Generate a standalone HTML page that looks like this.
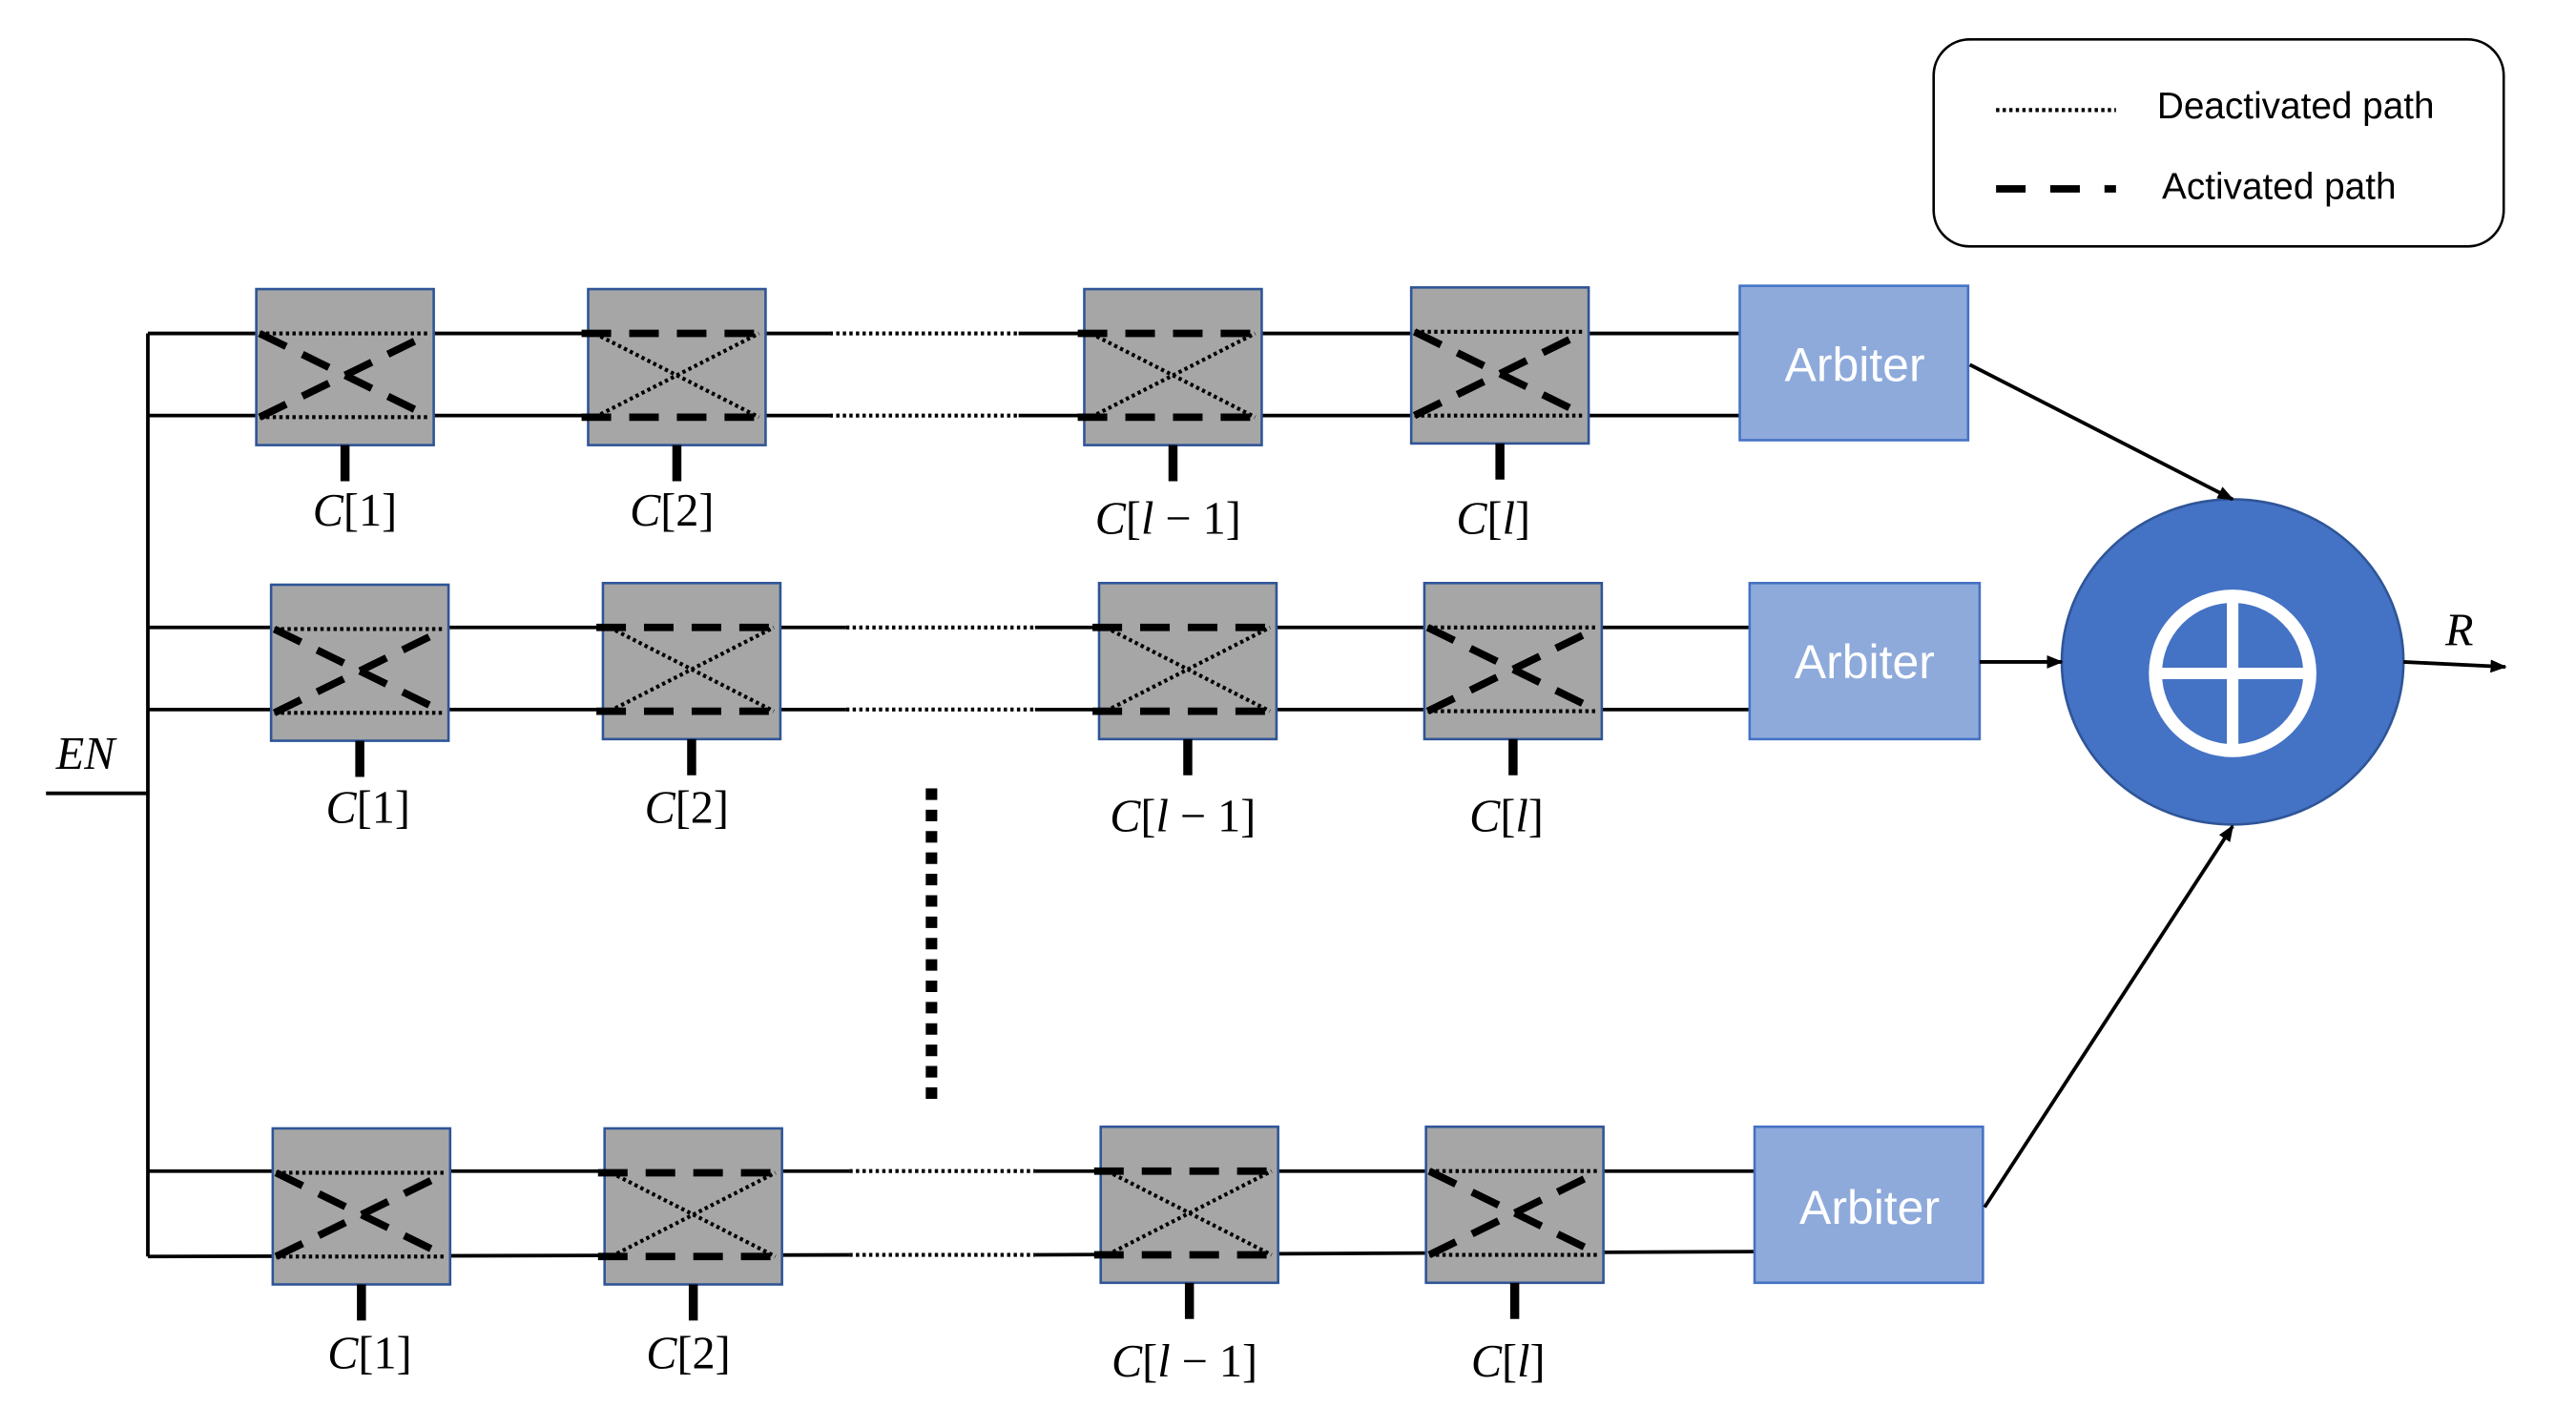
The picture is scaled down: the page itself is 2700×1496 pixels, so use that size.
<!DOCTYPE html>
<html><head><meta charset="utf-8"><style>
html,body{margin:0;padding:0;background:#fff;width:2700px;height:1496px;overflow:hidden}
svg{display:block}
.w{stroke:#000;stroke-width:2.2;fill:none}
.dt{stroke:#000;stroke-width:2.4;stroke-dasharray:2 2;fill:none}
.ds{stroke:#000;stroke-width:4.5;stroke-dasharray:18 11;fill:none}
.lbl{font-family:"Liberation Serif",serif;font-size:28px;text-anchor:middle}
.arb{font-family:"Liberation Sans",sans-serif;font-size:29px;fill:#fff;text-anchor:middle}
.leg{font-family:"Liberation Sans",sans-serif;font-size:22.5px}
</style></head><body>
<svg width="2700" height="1496" viewBox="0 0 1568 868.8" xmlns="http://www.w3.org/2000/svg">
<defs>
<g id="A">
<rect x="0" y="0" width="108" height="95" fill="#a6a6a6" stroke="#2f5597" stroke-width="1.5"/>
<line class="dt" x1="2" y1="27" x2="106" y2="27"/>
<line class="dt" x1="2" y1="78" x2="106" y2="78"/>
<line class="ds" x1="2" y1="27" x2="106" y2="78"/>
<line class="ds" x1="2" y1="78" x2="106" y2="27"/>
<line x1="54" y1="95" x2="54" y2="117" stroke="#000" stroke-width="5.5"/>
</g>
<g id="B">
<rect x="0" y="0" width="108" height="95" fill="#a6a6a6" stroke="#2f5597" stroke-width="1.5"/>
<line class="dt" x1="4" y1="27" x2="104" y2="78"/>
<line class="dt" x1="4" y1="78" x2="104" y2="27"/>
<line class="ds" x1="-4" y1="27" x2="112" y2="27"/>
<line class="ds" x1="-4" y1="78" x2="112" y2="78"/>
<line x1="54" y1="95" x2="54" y2="117" stroke="#000" stroke-width="5.5"/>
</g>
<marker id="ar" markerWidth="10" markerHeight="8" refX="9" refY="4" orient="auto" markerUnits="userSpaceOnUse"><path d="M0,0 L10,4 L0,8z" fill="#000"/></marker>
</defs>

<line class="w" x1="90" y1="203" x2="90" y2="765"/>
<line class="w" x1="28" y1="483" x2="90" y2="483"/>
<text x="52" y="468" class="lbl" font-style="italic">EN</text>

<g>
<line class="w" x1="90" y1="203" x2="505" y2="203"/><line class="dt" x1="505" y1="203" x2="620" y2="203"/><line class="w" x1="620" y1="203" x2="1059" y2="203"/>
<line class="w" x1="90" y1="253" x2="505" y2="253"/><line class="dt" x1="505" y1="253" x2="620" y2="253"/><line class="w" x1="620" y1="253" x2="1059" y2="253"/>
<use href="#A" x="156" y="176"/><use href="#B" x="358" y="176"/><use href="#B" x="660" y="176"/><use href="#A" x="859" y="175"/>
<rect x="1059" y="174" width="139" height="94" fill="#8eaadb" stroke="#4472c4" stroke-width="1.5"/>
<text x="1129" y="232" class="arb">Arbiter</text>
<text x="216" y="320" class="lbl"><tspan font-style="italic">C</tspan>[1]</text>
<text x="409" y="320" class="lbl"><tspan font-style="italic">C</tspan>[2]</text>
<text x="711" y="325" class="lbl"><tspan font-style="italic">C</tspan>[<tspan font-style="italic">l</tspan> − 1]</text>
<text x="909" y="325" class="lbl"><tspan font-style="italic">C</tspan>[<tspan font-style="italic">l</tspan>]</text>
</g>

<g>
<line class="w" x1="90" y1="382" x2="515" y2="382"/><line class="dt" x1="515" y1="382" x2="630" y2="382"/><line class="w" x1="630" y1="382" x2="1065" y2="382"/>
<line class="w" x1="90" y1="432" x2="515" y2="432"/><line class="dt" x1="515" y1="432" x2="630" y2="432"/><line class="w" x1="630" y1="432" x2="1065" y2="432"/>
<use href="#A" x="165" y="356"/><use href="#B" x="367" y="355"/><use href="#B" x="669" y="355"/><use href="#A" x="867" y="355"/>
<rect x="1065" y="355" width="140" height="95" fill="#8eaadb" stroke="#4472c4" stroke-width="1.5"/>
<text x="1135" y="413" class="arb">Arbiter</text>
<text x="224" y="501" class="lbl"><tspan font-style="italic">C</tspan>[1]</text>
<text x="418" y="501" class="lbl"><tspan font-style="italic">C</tspan>[2]</text>
<text x="720" y="506" class="lbl"><tspan font-style="italic">C</tspan>[<tspan font-style="italic">l</tspan> − 1]</text>
<text x="917" y="506" class="lbl"><tspan font-style="italic">C</tspan>[<tspan font-style="italic">l</tspan>]</text>
</g>

<line x1="567" y1="480" x2="567" y2="674" stroke="#000" stroke-width="7" stroke-dasharray="7 6"/>

<g>
<line class="w" x1="90" y1="713" x2="517" y2="713"/><line class="dt" x1="517" y1="713" x2="630" y2="713"/><line class="w" x1="630" y1="713" x2="1068" y2="713"/>
<line class="w" x1="90" y1="765" x2="517" y2="764"/><line class="dt" x1="517" y1="764" x2="630" y2="764"/><line class="w" x1="630" y1="764" x2="1068" y2="762"/>
<use href="#A" x="166" y="687"/><use href="#B" x="368" y="687"/><use href="#B" x="670" y="686"/><use href="#A" x="868" y="686"/>
<rect x="1068" y="686" width="139" height="95" fill="#8eaadb" stroke="#4472c4" stroke-width="1.5"/>
<text x="1138" y="745" class="arb">Arbiter</text>
<text x="225" y="833" class="lbl"><tspan font-style="italic">C</tspan>[1]</text>
<text x="419" y="833" class="lbl"><tspan font-style="italic">C</tspan>[2]</text>
<text x="721" y="838" class="lbl"><tspan font-style="italic">C</tspan>[<tspan font-style="italic">l</tspan> − 1]</text>
<text x="918" y="838" class="lbl"><tspan font-style="italic">C</tspan>[<tspan font-style="italic">l</tspan>]</text>
</g>

<ellipse cx="1359" cy="403" rx="104" ry="99" fill="#4472c4" stroke="#2f5597" stroke-width="1.5"/>
<circle cx="1359" cy="410" r="47" fill="none" stroke="#fff" stroke-width="8"/>
<line x1="1359" y1="363" x2="1359" y2="457" stroke="#fff" stroke-width="7"/>
<line x1="1312" y1="410" x2="1406" y2="410" stroke="#fff" stroke-width="7"/>

<line x1="1199" y1="222" x2="1359" y2="304" stroke="#000" stroke-width="2.2" marker-end="url(#ar)"/>
<line x1="1205" y1="403" x2="1255" y2="403" stroke="#000" stroke-width="2.2" marker-end="url(#ar)"/>
<line x1="1208" y1="735" x2="1359" y2="503" stroke="#000" stroke-width="2.2" marker-end="url(#ar)"/>
<line x1="1463" y1="403" x2="1525" y2="406" stroke="#000" stroke-width="2.2" marker-end="url(#ar)"/>
<text x="1497" y="393" class="lbl" font-style="italic">R</text>

<rect x="1177" y="24" width="347" height="126" rx="22" fill="#fff" stroke="#000" stroke-width="1.5"/>
<line x1="1215" y1="67" x2="1288" y2="67" stroke="#000" stroke-width="2.5" stroke-dasharray="2 2"/>
<line x1="1215" y1="115" x2="1288" y2="115" stroke="#000" stroke-width="4.5" stroke-dasharray="18 15"/>
<text x="1313" y="72" class="leg">Deactivated path</text>
<text x="1316" y="121" class="leg">Activated path</text>
</svg>
</body></html>
